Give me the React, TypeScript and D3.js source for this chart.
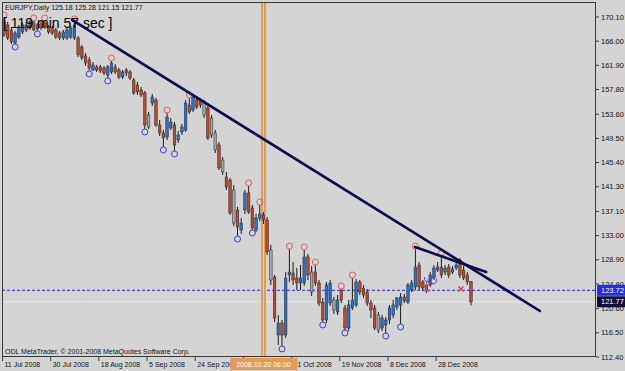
import React from "react";
import * as d3 from "d3";

// ---- Data (EURJPY Daily) ----
const opens = [
  169.26, 168.75, 167.9, 165.69, 166.71, 167.56, 168.75, 168.24, 169.26, 168.07,
  168.92, 169.09, 168.41, 168.24, 167.9, 167.39, 166.54, 166.54, 166.71, 166.54,
  166.54, 165.01, 163.49, 162.81, 161.11, 161.62, 161.62, 161.45, 160.26, 160.77,
  161.62, 161.11, 159.92, 161.11, 160.77, 159.41, 158.56, 157.72, 157.21, 153.47,
  155.51, 156.02, 151.78, 150.42, 149.74, 151.27, 151.78, 149.23, 150.59, 150.93,
  155.17, 154.32, 156.02, 156.02, 155.51, 154.66, 152.96, 150.42, 148.38, 145.83,
  142.95, 142.44, 140.74, 137.35, 133.95, 137.35, 140.23, 137.69, 133.95, 135.99,
  136.5, 135.65, 130.56, 125.98, 116.13, 118.17, 116.13, 126.32, 126.65, 125.8,
  124.96, 124.96, 129.37, 126.82, 126.82, 124.96, 121.73, 118.68, 121.56, 122.07,
  120.04, 123.77, 120.72, 117.32, 120.72, 121.23, 125.13, 124.11, 123.43, 121.56,
  120.72, 119.53, 117.32, 117.83, 118.68, 119.53, 120.89, 121.23, 122.58, 121.73,
  123.77, 124.28, 128.01, 125.13, 123.77, 124.62, 125.8, 127.16, 127.67, 126.82,
  127.67, 126.82, 127.5, 128.86, 127.16, 126.32, 125.18,
];
const highs = [
  169.94, 169.26, 168.41, 167.73, 168.75, 169.09, 169.26, 169.6, 169.43, 169.09,
  169.43, 169.43, 168.75, 168.58, 168.24, 167.73, 167.9, 168.24, 168.58, 169.26,
  166.88, 165.35, 164.0, 163.32, 162.47, 161.96, 161.96, 161.79, 161.96, 162.64,
  162.13, 161.45, 161.11, 161.45, 161.11, 159.75, 159.07, 158.22, 157.55, 153.98,
  157.04, 156.36, 152.62, 150.93, 153.81, 152.96, 152.28, 150.76, 151.95, 156.02,
  156.36, 156.87, 156.53, 156.36, 156.02, 155.17, 153.47, 150.93, 148.89, 146.34,
  143.8, 142.78, 141.59, 137.86, 135.99, 140.74, 141.42, 138.2, 136.67, 138.2,
  137.01, 136.16, 131.41, 126.32, 119.53, 118.68, 126.82, 130.73, 128.52, 127.5,
  128.01, 130.56, 129.88, 127.84, 128.01, 125.47, 122.4, 125.13, 125.47, 122.58,
  122.92, 123.94, 121.23, 122.07, 125.8, 125.64, 125.47, 124.62, 123.94, 122.07,
  121.23, 120.04, 119.53, 119.19, 121.23, 122.07, 122.58, 123.26, 123.09, 124.96,
  125.47, 130.73, 128.52, 125.47, 125.13, 126.82, 128.01, 128.52, 129.54, 128.01,
  128.18, 127.84, 128.52, 129.2, 127.84, 126.82, 125.28,
];
const lows = [
  166.71, 166.2, 165.52, 165.52, 166.37, 167.22, 167.56, 167.9, 167.73, 167.73,
  167.9, 168.07, 167.22, 167.05, 166.37, 166.2, 166.2, 166.2, 166.37, 166.2,
  163.32, 162.81, 161.79, 160.94, 160.94, 160.77, 160.6, 160.26, 159.75, 160.43,
  160.43, 159.58, 159.58, 160.09, 159.41, 156.87, 156.87, 156.53, 151.1, 151.1,
  155.0, 151.44, 149.91, 148.04, 149.23, 150.93, 147.36, 148.72, 150.08, 150.59,
  153.64, 153.98, 154.49, 154.66, 152.96, 149.23, 149.57, 147.02, 144.14, 143.29,
  140.74, 136.5, 134.63, 132.93, 133.27, 136.67, 136.67, 133.95, 133.61, 135.48,
  134.97, 129.71, 124.62, 118.34, 114.44, 114.27, 115.62, 125.13, 124.62, 123.77,
  123.77, 124.45, 125.47, 122.75, 124.45, 121.06, 118.34, 118.17, 121.06, 119.7,
  119.53, 121.56, 116.98, 116.81, 120.38, 120.89, 122.92, 122.4, 121.06, 119.02,
  116.98, 116.47, 116.81, 116.47, 118.0, 119.02, 120.38, 118.0, 121.56, 121.39,
  123.43, 123.77, 123.77, 123.6, 123.26, 124.28, 125.47, 126.82, 125.8, 126.32,
  125.8, 126.48, 127.16, 125.8, 125.47, 124.62, 121.15,
];
const closes = [
  167.05, 166.54, 165.86, 167.39, 168.41, 168.75, 167.9, 169.26, 167.9, 168.75,
  168.24, 168.41, 167.56, 167.39, 166.71, 166.54, 167.56, 167.9, 168.24, 168.75,
  163.66, 163.15, 162.3, 161.45, 161.96, 161.11, 160.94, 160.6, 161.62, 162.3,
  160.77, 159.92, 160.77, 160.6, 159.75, 157.21, 157.38, 156.87, 151.78, 151.44,
  156.53, 151.78, 150.42, 149.57, 153.13, 152.28, 148.38, 150.08, 151.44, 155.51,
  153.98, 156.53, 154.83, 155.17, 153.47, 149.57, 150.08, 147.53, 144.48, 143.8,
  141.25, 136.84, 135.14, 134.46, 135.14, 140.23, 137.01, 134.29, 135.99, 136.67,
  135.65, 130.22, 125.47, 119.02, 118.17, 116.13, 125.8, 126.82, 125.47, 124.96,
  125.8, 129.37, 126.32, 123.43, 124.96, 121.56, 118.68, 124.62, 124.96, 120.38,
  122.07, 122.07, 117.32, 121.23, 122.07, 125.13, 123.43, 122.92, 121.56, 120.38,
  117.32, 116.98, 119.02, 118.68, 120.72, 121.23, 122.4, 122.58, 121.9, 124.62,
  124.96, 127.67, 124.28, 124.11, 124.62, 126.32, 127.5, 127.67, 126.32, 127.5,
  126.32, 127.33, 128.01, 126.32, 125.8, 125.13, 121.77,
];
// bars painted grey by the chart's colouring indicator
const greyBars = [39, 54, 56, 57, 59, 62, 72, 83, 89, 101];
// fractal marks
const fractalUp = [0, 8, 11, 19, 29, 44, 50, 66, 69, 77, 81, 84, 91, 94, 111, 118];
const fractalDown = [3, 9, 23, 28, 38, 43, 46, 63, 67, 75, 86, 92, 103, 107];

const priceTicks = [170.1, 166.0, 161.9, 157.8, 153.6, 149.5, 145.4, 141.3, 137.1, 133.0, 128.9, 124.8, 120.6, 116.5, 112.4];
const dateTickIndex = [0, 13, 26, 39, 52, 65, 78, 91, 104, 117];
// the label at index 65 lies under the vertical line's time label and is not visible
const dateTickLabels = ["11 Jul 2008", "30 Jul 2008", "18 Aug 2008", "5 Sep 2008", "24 Sep 2008", "", "31 Oct 2008", "19 Nov 2008", "8 Dec 2008", "28 Dec 2008"];

// trend lines: [startIndex, startPrice, endIndex, endPrice]
const trendLines: [number, number, number, number][] = [
  [18.35, 169.6, 144.6, 120.21],
  [110.9, 131.07, 130.1, 126.83],
];
const vLineIndex = 70;
const vLineLabel = "2008.10.20 06:00";
const askPrice = 123.72;
const bidPrice = 121.77;
const symbolInfo = "EURJPY,Daily  125.18 125.28 121.15 121.77";
const timerText = "[ 119 min 57 sec ]";
const copyright = "ODL MetaTrader, \u00a9 2001-2008 MetaQuotes Software Corp.";
// small hand-drawn objects: [index, price]
const redMarkAt: [number, number] = [114.0, 124.45];
const blueMarkAt: [number, number] = [114.8, 125.3];
const crossAt: [number, number] = [123.3, 123.94];

const FONT = "'Liberation Sans', Arial, sans-serif";
const BG = "#d4d4d4";
const UP = "#2a6fc8";
const DOWN = "#b9492d";
const GREY = "#a6a6a6";

export default function App() {
  const W = 625, H = 371;
  const L = 2, R = 596, T = 2, B = 357;
  const x = d3.scaleLinear().domain([0, 126]).range([4, 471]);
  const y = d3.scaleLinear().domain([112.4, 170.1]).range([357, 17]);
  const bars = d3.range(opens.length).map((i) => ({ i, o: opens[i], h: highs[i], l: lows[i], c: closes[i] }));
  const vx = x(vLineIndex);

  const rm = [x(redMarkAt[0]), y(redMarkAt[1])];
  const bm = [x(blueMarkAt[0]), y(blueMarkAt[1])];
  const cm = [x(crossAt[0]), y(crossAt[1])];

  return (
    <svg width={W} height={H} style={{ position: "fixed", left: 0, top: 0, display: "block" }} fontFamily={FONT}>
      <defs>
        <clipPath id="plot">
          <rect x={L} y={T} width={R - L} height={B - T} />
        </clipPath>
      </defs>
      <rect width={W} height={H} fill={BG} />

      <g clipPath="url(#plot)">
        {/* price lines */}
        <line x1={L} x2={R} y1={y(askPrice)} y2={y(askPrice)} stroke="#2222ff" strokeDasharray="3,2" strokeWidth={1} />
        <line x1={L} x2={R} y1={y(bidPrice)} y2={y(bidPrice)} stroke="#f4f4f4" strokeDasharray="2,1" strokeWidth={1} />

        {/* vertical line */}
        <line x1={vx} x2={vx} y1={T} y2={B} stroke="#e49a55" strokeWidth={5} />
        <line x1={vx} x2={vx} y1={T} y2={B} stroke="#f4d2ad" strokeWidth={1} />

        {/* candles */}
        {bars.map((b) => {
          const cx = x(b.i);
          const top = y(Math.max(b.o, b.c));
          const bot = y(Math.min(b.o, b.c));
          const fill = greyBars.includes(b.i) ? GREY : b.c >= b.o ? UP : DOWN;
          return (
            <g key={b.i}>
              <line x1={cx} x2={cx} y1={y(b.h)} y2={y(b.l)} stroke="#1c1c1c" strokeWidth={1} />
              <rect x={cx - 1.3} y={top} width={2.6} height={Math.max(1, bot - top)} fill={fill} stroke="#2a2a2a" strokeWidth={0.5} />
            </g>
          );
        })}

        {/* fractals */}
        {fractalUp.map((i) => (
          <circle key={"u" + i} cx={x(i)} cy={y(highs[i]) - 3} r={3} fill="none" stroke="#e25a5a" strokeWidth={1} />
        ))}
        {fractalDown.map((i) => (
          <circle key={"d" + i} cx={x(i)} cy={y(lows[i]) + 3} r={3} fill="none" stroke="#3c3ce0" strokeWidth={1} />
        ))}

        {/* trend lines */}
        {trendLines.map((t, k) => (
          <line key={k} x1={x(t[0])} y1={y(t[1])} x2={x(t[2])} y2={y(t[3])} stroke="#0c0c4e" strokeWidth={2.6} strokeLinecap="round" />
        ))}

        {/* small drawn objects */}
        <path
          d={`M${rm[0] - 3},${rm[1] + 5} L${rm[0] + 4},${rm[1] + 5} M${rm[0]},${rm[1] + 5} L${rm[0]},${rm[1] - 4} Q${rm[0] + 0.5},${rm[1] - 7} ${rm[0] + 3},${rm[1] - 6.5} Q${rm[0] + 5.5},${rm[1] - 6} ${rm[0] + 5.5},${rm[1] - 3}`}
          fill="none" stroke="#e25a5a" strokeWidth={1}
        />
        <path
          d={`M${bm[0] - 5},${bm[1] - 4} Q${bm[0] - 5},${bm[1] + 1} ${bm[0] - 2},${bm[1] + 1} Q${bm[0] + 1},${bm[1] + 1} ${bm[0] + 1},${bm[1] - 4} M${bm[0] + 1},${bm[1] - 2} Q${bm[0] + 1},${bm[1] + 3} ${bm[0] + 4},${bm[1] + 3} Q${bm[0] + 7},${bm[1] + 3} ${bm[0] + 7},${bm[1] - 2}`}
          fill="none" stroke="#3c3ce0" strokeWidth={1}
        />
        <path d={`M${cm[0] - 2.5},${cm[1] - 2.5} L${cm[0] + 2.5},${cm[1] + 2.5} M${cm[0] + 2.5},${cm[1] - 2.5} L${cm[0] - 2.5},${cm[1] + 2.5}`} stroke="#e03030" strokeWidth={1.2} />
      </g>

      {/* texts in plot */}
      <text x={5} y={10} fontSize={7} fill="#111">{symbolInfo}</text>
      <text x={3} y={28} fontSize={14} fill="#000">{timerText}</text>
      <text x={5} y={354} fontSize={7} fill="#111">{copyright}</text>

      {/* frame */}
      <rect x={L + 0.5} y={T + 0.5} width={R - L - 1} height={B - T - 1} fill="none" stroke="#3a3a3a" strokeWidth={1} />

      {/* price axis */}
      {priceTicks.map((p) => (
        <g key={p}>
          <line x1={R} x2={R + 3} y1={y(p)} y2={y(p)} stroke="#3a3a3a" />
          <text x={R + 5} y={y(p) + 2.6} fontSize={7.5} fill="#111">{p.toFixed(2)}</text>
        </g>
      ))}
      <rect x={R + 1} y={y(askPrice) - 5.5} width={W - R - 1} height={11} fill="#2828ff" />
      <text x={R + 5} y={y(askPrice) + 2.6} fontSize={7.5} fill="#fff">{askPrice.toFixed(2)}</text>
      <rect x={R + 1} y={y(bidPrice) - 5.5} width={W - R - 1} height={11} fill="#0e0e3c" />
      <text x={R + 5} y={y(bidPrice) + 2.6} fontSize={7.5} fill="#fff">{bidPrice.toFixed(2)}</text>

      {/* date axis */}
      {dateTickIndex.map((idx, k) => {
        const tx = x(idx) - 1.5;
        return (
          <g key={idx}>
            <line x1={tx} x2={tx} y1={B} y2={B + 4} stroke="#3a3a3a" />
            {dateTickLabels[k] ? (
              <text x={tx + 2} y={367} fontSize={7} fill="#111">{dateTickLabels[k]}</text>
            ) : null}
          </g>
        );
      })}
      <rect x={vx - 33} y={B + 1} width={67} height={12} fill="#e39b57" />
      <text x={vx} y={367} fontSize={7} fill="#fff" textAnchor="middle">{vLineLabel}</text>
    </svg>
  );
}
